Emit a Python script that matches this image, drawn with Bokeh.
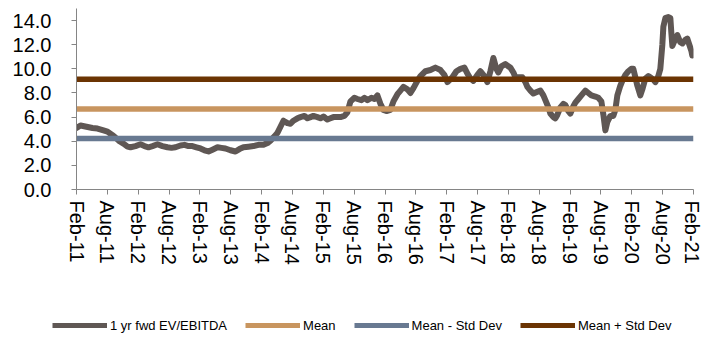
from bokeh.plotting import figure
from bokeh.layouts import column
from bokeh.models import Range1d, FixedTicker, Legend, LegendItem
from bokeh.embed import file_html
from bokeh.resources import INLINE

# Time axis: months elapsed since Feb-2011
months = [
    0.0, 0.78, 1.94, 3.11, 4.08, 5.25, 6.03, 7.0, 7.58, 8.36, 9.14, 9.92, 10.5,
    11.47, 12.44, 13.22, 14.0, 14.78, 15.75, 16.72, 17.69, 18.47, 19.25, 20.22,
    21.0, 21.78, 22.55, 23.33, 24.11, 24.89, 25.67, 26.44, 27.42, 28.19, 28.97,
    29.94, 30.92, 31.69, 32.47, 33.44, 34.42, 35.39, 36.36, 37.14, 37.72, 38.5,
    39.08, 39.67, 40.25, 41.03, 41.61, 42.19, 42.97, 43.55, 44.33, 44.92, 45.5,
    46.08, 46.86, 47.44, 48.03, 48.8, 49.39, 49.97, 50.75, 51.33, 52.11, 52.69,
    53.28, 54.05, 54.64, 55.41, 56.0, 56.58, 57.36, 57.94, 58.53, 59.11, 59.69,
    60.28, 61.05, 61.64, 62.42, 63.0, 63.58, 64.36, 64.94, 65.53, 66.3, 66.89,
    67.86, 68.83, 69.8, 70.78, 71.55, 72.14, 73.11, 73.89, 74.67, 75.44, 76.03,
    76.61, 77.19, 77.97, 78.55, 79.33, 79.91, 80.5, 81.08, 81.66, 82.05, 82.64,
    83.41, 84.0, 84.39, 84.97, 85.36, 85.94, 86.72, 87.3, 87.69, 88.28, 88.86,
    89.64, 90.22, 90.8, 91.19, 91.78, 92.16, 92.75, 93.14, 93.53, 94.11, 94.69,
    95.08, 95.66, 96.05, 96.64, 97.02, 97.61, 98.19, 98.97, 99.55, 100.14,
    100.91, 101.5, 102.08, 102.47, 102.86, 103.25, 103.83, 104.41, 104.8,
    105.19, 105.77, 106.16, 106.75, 107.33, 107.91, 108.3, 108.69, 109.08,
    109.66, 110.05, 110.64, 111.22, 111.61, 112.19, 112.58, 113.16, 113.55,
    113.94, 114.14, 114.53, 115.11, 115.5, 115.69, 115.89, 116.28, 116.86,
    117.44, 117.83, 118.41, 118.8, 119.19, 119.58, 119.77, 120.0,
]

# 1 yr forward EV/EBITDA multiple
ev_ebitda = [
    5.1, 5.3, 5.2, 5.1, 5.05, 4.9, 4.8, 4.5, 4.3, 4.0, 3.8, 3.55, 3.5,
    3.6, 3.75, 3.6, 3.5, 3.6, 3.75, 3.6, 3.5, 3.45, 3.5, 3.65,
    3.7, 3.6, 3.6, 3.5, 3.4, 3.25, 3.15, 3.3, 3.5, 3.45, 3.4,
    3.25, 3.15, 3.35, 3.5, 3.55, 3.6, 3.7, 3.7, 3.85, 4.05, 4.4,
    4.7, 5.2, 5.7, 5.5, 5.45, 5.7, 5.9, 6.0, 6.1, 5.9, 6.0,
    6.1, 6.0, 5.9, 6.05, 5.8, 5.9, 6.0, 6.0, 6.0, 6.1, 6.4,
    7.3, 7.6, 7.5, 7.4, 7.6, 7.4, 7.6, 7.5, 7.8, 7.1, 6.6,
    6.5, 6.6, 7.3, 7.9, 8.2, 8.5, 8.3, 8.0, 8.4, 9.0, 9.4,
    9.8, 9.9, 10.1, 9.9, 9.5, 8.9, 9.3, 9.8, 10.0, 10.1, 9.6,
    9.2, 9.0, 9.5, 9.8, 9.4, 8.9, 9.8, 10.9, 10.0, 9.7, 10.2,
    10.4, 10.2, 10.1, 9.7, 9.3, 9.3, 9.3, 8.9, 8.5, 8.2, 7.95,
    8.1, 8.2, 7.8, 7.4, 6.8, 6.3, 6.0, 5.9, 6.2, 6.8, 7.1,
    7.0, 6.5, 6.3, 6.9, 7.2, 7.5, 7.8, 8.2, 8.0, 7.8,
    7.7, 7.6, 7.3, 6.2, 4.9, 5.6, 6.1, 6.1, 6.6,
    7.8, 8.6, 9.0, 9.5, 9.8, 10.0, 10.0, 9.3, 8.6,
    7.8, 8.3, 9.2, 9.4, 9.3, 9.1, 8.9, 9.4, 10.0,
    12.0, 13.5, 14.2, 14.3, 14.2, 13.0, 11.9, 12.3, 12.8,
    12.2, 12.1, 12.4, 12.5, 12.0, 11.5, 11.1, 11.2,
]

# Reference levels for the multiple
mean_level = 6.68
minus_std_level = 4.23
plus_std_level = 9.13

tick_months = [0, 6, 12, 18, 24, 30, 36, 42, 48, 54, 60, 66, 72, 78, 84, 90,
               96, 102, 108, 114, 120]
tick_labels = ["Feb-11", "Aug-11", "Feb-12", "Aug-12", "Feb-13", "Aug-13",
               "Feb-14", "Aug-14", "Feb-15", "Aug-15", "Feb-16", "Aug-16",
               "Feb-17", "Aug-17", "Feb-18", "Aug-18", "Feb-19", "Aug-19",
               "Feb-20", "Aug-20", "Feb-21"]
y_ticks = [0, 2, 4, 6, 8, 10, 12, 14]
y_labels = ["0.0", "2.0", "4.0", "6.0", "8.0", "10.0", "12.0", "14.0"]

series_names = ["1 yr fwd EV/EBITDA", "Mean", "Mean - Std Dev", "Mean + Std Dev"]
series_colors = ["#5f5754", "#c8955f", "#687991", "#6b3403"]

FONT = "Liberation Sans"
AXIS_GREY = "#858585"

# ---- main chart -------------------------------------------------------------
p = figure(width=702, height=300, output_backend="svg", toolbar_location=None,
           x_range=Range1d(0, 120), y_range=Range1d(0, 15),
           min_border_left=76, min_border_right=9,
           min_border_top=8, min_border_bottom=111)
p.frame_align = False
p.outline_line_color = None
p.xgrid.visible = False
p.ygrid.visible = False

p.line(months, ev_ebitda, line_color=series_colors[0], line_width=6,
       line_join="round", line_cap="round")

x_span = [tick_months[0], tick_months[-1]]
for level, color in zip([mean_level, minus_std_level, plus_std_level],
                        series_colors[1:]):
    p.line(x_span, [level, level], line_color=color, line_width=5.5)

xa = p.xaxis[0]
xa.ticker = FixedTicker(ticks=tick_months)
xa.major_label_overrides = dict(zip(tick_months, tick_labels))
xa.major_label_orientation = "vertical"
xa.major_label_text_font = FONT
xa.major_label_text_font_size = "20px"
xa.major_label_text_color = "black"
xa.major_label_standoff = 6
xa.axis_line_color = AXIS_GREY
xa.major_tick_line_color = AXIS_GREY
xa.major_tick_out = 5
xa.major_tick_in = 0
xa.minor_tick_line_color = None

ya = p.yaxis[0]
ya.ticker = FixedTicker(ticks=y_ticks)
ya.major_label_overrides = dict(zip(y_ticks, y_labels))
ya.major_label_text_font = FONT
ya.major_label_text_font_size = "20px"
ya.major_label_text_color = "black"
ya.major_label_standoff = 20
ya.axis_line_color = AXIS_GREY
ya.major_tick_line_color = AXIS_GREY
ya.major_tick_out = 5
ya.major_tick_in = 0
ya.minor_tick_line_color = None

# ---- legend strip -----------------------------------------------------------
leg = figure(width=702, height=38, output_backend="svg", toolbar_location=None,
             x_axis_location=None, y_axis_location=None,
             x_range=Range1d(0, 1), y_range=Range1d(0, 1),
             min_border_left=0, min_border_right=0,
             min_border_top=0, min_border_bottom=0)
leg.frame_align = False
leg.outline_line_color = None
leg.grid.visible = False

items = []
for name, color in zip(series_names, series_colors):
    r = leg.line([float("nan")], [float("nan")], line_color=color,
                 line_width=5)
    items.append(LegendItem(label=name, renderers=[r]))

legend = Legend(
    items=items,
    location=(52, 3),
    orientation="horizontal",
    glyph_width=55,
    glyph_height=20,
    label_height=20,
    label_standoff=3,
    spacing=18,
    padding=0,
    margin=0,
    border_line_color=None,
    background_fill_alpha=0,
    label_text_font=FONT,
    label_text_font_size="13px",
    label_text_color="black",
)
leg.add_layout(legend)

open("out.html", "w").write(file_html(column(p, leg, spacing=0), INLINE))
